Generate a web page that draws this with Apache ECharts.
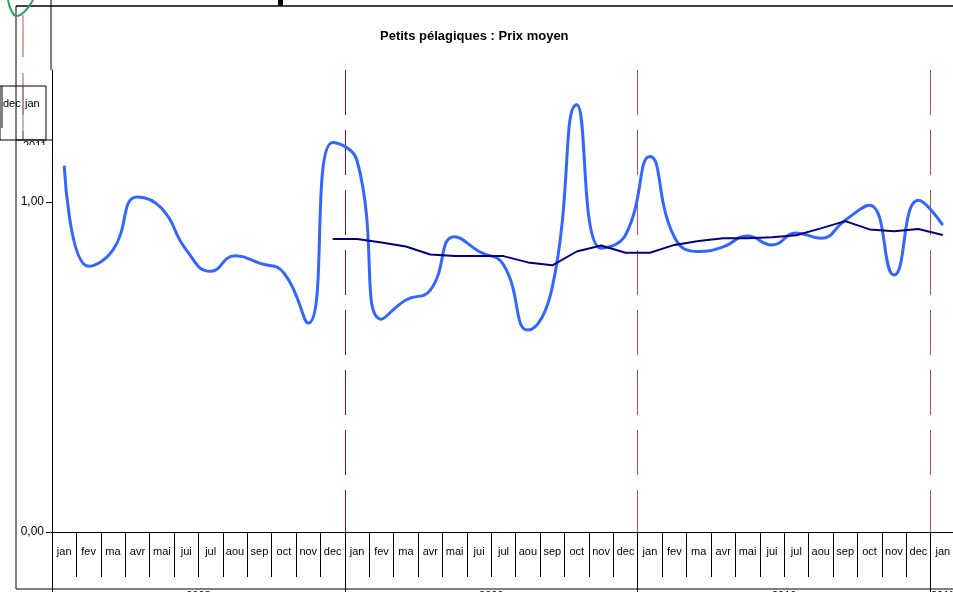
<!DOCTYPE html>
<html>
<head>
<meta charset="utf-8">
<script src="https://cdn.jsdelivr.net/npm/echarts@6/dist/echarts.min.js"></script>
<style>
  html, body { margin: 0; padding: 0; background: #fff; }
  #chart { width: 953px; height: 592px; }
</style>
</head>
<body>
<div id="chart"></div>
<script>
// mois affichés sous l'axe (3 années + janvier suivant)
var mois = ["jan", "fev", "ma", "avr", "mai", "jui", "jul", "aou", "sep", "oct", "nov", "dec"];
var annees = ["2008", "2009", "2010", "2011"];
var yTicks = [0, 1];
// début de chaque année, en nombre de mois depuis jan 2008
var debutsAnnee = [0, 12, 24, 36];

// prix moyen mensuel (jan 2008 -> jan 2011)
var prixMoyen = [1.11, 0.805, 0.855, 1.015, 0.98, 0.855, 0.79, 0.837, 0.815, 0.785, 0.633, 1.18,
  1.125, 0.645, 0.703, 0.733, 0.895, 0.85, 0.81, 0.612, 0.742, 1.295, 0.86, 0.9,
  1.138, 0.894, 0.85, 0.864, 0.897, 0.87, 0.906, 0.89, 0.945, 0.99, 0.779, 1.005,
  0.93];
// moyenne mobile sur 12 mois (commence en dec 2008)
var moyenneMobile = [null, null, null, null, null, null, null, null, null, null, null, 0.888,
  0.888, 0.877, 0.865, 0.841, 0.836, 0.836, 0.836, 0.817, 0.808, 0.85, 0.868, 0.846,
  0.846, 0.87, 0.882, 0.89, 0.89, 0.893, 0.899, 0.92, 0.942, 0.917, 0.911, 0.918,
  0.9];

var categories = [];
for (var a = 0; a < 3; a++) {
  categories = categories.concat(mois);
}
categories.push(mois[0]);

var nbMois = categories.length;
var FONT = "'Liberation Sans', Arial, sans-serif";

var chart = echarts.init(document.getElementById("chart"));

var option = {
  animation: false,
  backgroundColor: "#fff",
  title: {
    text: "Petits pélagiques : Prix moyen",
    left: 375,
    top: 25,
    textStyle: { fontFamily: FONT, fontSize: 13, fontWeight: "bold", color: "#000" }
  },
  grid: { left: 52, top: 70, width: 903, height: 462, outerBoundsMode: "none", containLabel: false },
  xAxis: [
    {
      type: "category",
      data: categories,
      boundaryGap: true,
      axisLine: { show: true, lineStyle: { color: "#000", width: 1 } },
      axisTick: { show: true, interval: 0, length: 45, lineStyle: { color: "#000" } },
      axisLabel: { interval: 0, margin: 14, fontFamily: FONT, fontSize: 11, color: "#000" },
      // pointillés verticaux au début de chaque année
      splitLine: {
        show: true,
        interval: function (index) {
          return index > 0 && index % 12 === 0;
        },
        lineStyle: {
          color: ["#7A1A1A", "#C0504D", "#C0504D"],
          type: [45, 15],
          width: 1
        }
      },
      splitArea: { show: false }
    },
    {
      // années + séparateurs longs
      type: "value",
      min: 0,
      max: nbMois,
      position: "bottom",
      axisLine: { show: false },
      axisTick: {
        show: true,
        length: 60,
        customValues: debutsAnnee,
        lineStyle: { color: "#000" }
      },
      axisLabel: {
        show: true,
        customValues: [6, 18, 30, 36.5],
        margin: 58,
        fontFamily: FONT,
        fontSize: 11,
        color: "#000",
        formatter: function (v) {
          return annees[Math.floor(v / 12)];
        }
      },
      splitLine: { show: false }
    }
  ],
  yAxis: {
    type: "value",
    min: 0,
    max: 1.4,
    axisLine: { show: true, lineStyle: { color: "#000", width: 1 } },
    axisTick: { show: true, length: 6, customValues: yTicks, lineStyle: { color: "#000" } },
    axisLabel: {
      customValues: yTicks,
      margin: 8,
      fontFamily: FONT,
      fontSize: 12,
      color: "#000",
      formatter: function (v) {
        return v.toFixed(2).replace(".", ",");
      }
    },
    splitLine: { show: false },
    z: 5
  },
  series: [
    {
      name: "Prix moyen",
      type: "line",
      data: prixMoyen,
      smooth: 0.5,
      showSymbol: false,
      lineStyle: { color: "#3366FF", width: 3 },
      z: 3
    },
    {
      name: "Moyenne mobile",
      type: "line",
      data: moyenneMobile,
      smooth: false,
      showSymbol: false,
      connectNulls: false,
      lineStyle: { color: "#000080", width: 2 },
      z: 4
    }
  ],
  graphic: [
    // cadre
    { type: "line", shape: { x1: 16, y1: 6, x2: 953, y2: 6 }, style: { stroke: "#000", lineWidth: 1.5 } },
    { type: "line", shape: { x1: 16, y1: 6, x2: 16, y2: 589 }, style: { stroke: "#000", lineWidth: 1 } },
    { type: "line", shape: { x1: 16, y1: 589, x2: 953, y2: 589 }, style: { stroke: "#000", lineWidth: 1 } },
    { type: "line", shape: { x1: 51, y1: 0, x2: 51, y2: 70 }, style: { stroke: "#000", lineWidth: 1 } },
    { type: "rect", shape: { x: 278, y: 0, width: 5, height: 6 }, style: { fill: "#000" } },
    // restes d'un autre graphique en haut à gauche
    {
      type: "polyline",
      shape: { points: [[8, 0], [12, 12], [17, 16], [25, 11], [33, 0]], smooth: 0.5 },
      style: { stroke: "#2E9E5B", lineWidth: 2, fill: null }
    },
    { type: "line", shape: { x1: 23, y1: 15, x2: 23, y2: 140 }, style: { stroke: "#C0504D", lineWidth: 1, lineDash: [42, 16] } },
    { type: "rect", shape: { x: 0, y: 86, width: 46, height: 54 }, style: { fill: null, stroke: "#000", lineWidth: 1 } },
    { type: "line", shape: { x1: 2, y1: 86, x2: 2, y2: 128 }, style: { stroke: "#000", lineWidth: 1 } },
    { type: "line", shape: { x1: 23, y1: 86, x2: 23, y2: 140 }, style: { stroke: "#777", lineWidth: 1 } },
    { type: "line", shape: { x1: 16, y1: 140, x2: 52, y2: 140 }, style: { stroke: "#000", lineWidth: 1 } },
    { type: "text", x: 3, y: 98, style: { text: "dec", font: "11px " + FONT, fill: "#000" } },
    { type: "text", x: 25, y: 98, style: { text: "jan", font: "11px " + FONT, fill: "#000" } },
    { type: "text", x: 23, y: 140, style: { text: "2011", font: "11px " + FONT, fill: "#000" } },
    { type: "rect", shape: { x: 17, y: 145, width: 34, height: 12 }, style: { fill: "#fff" }, z: 10 }
  ]
};

chart.setOption(option);
</script>
</body>
</html>
